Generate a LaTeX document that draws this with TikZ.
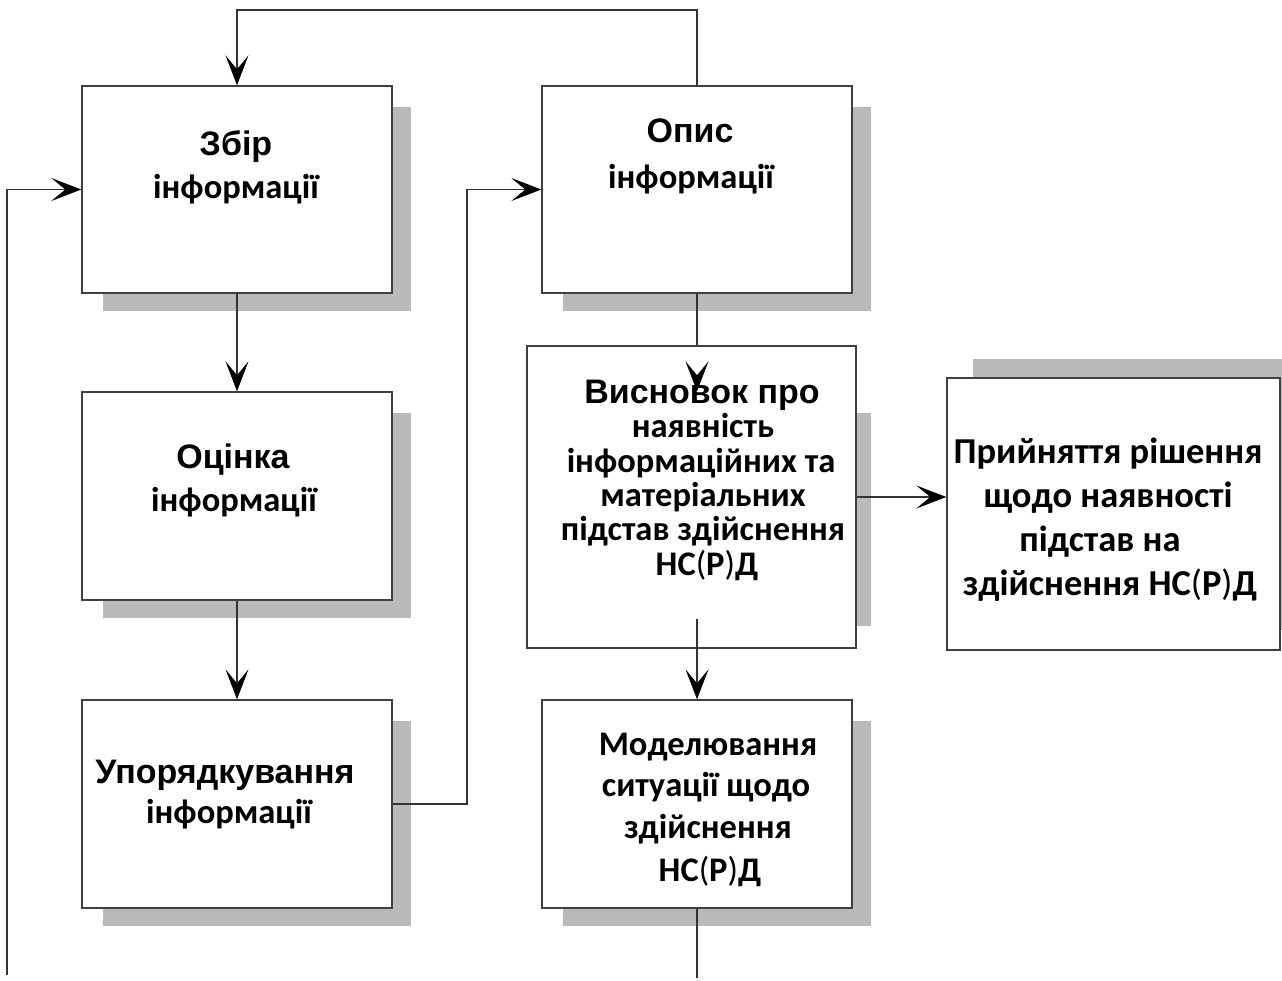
\documentclass[tikz,border=0pt]{standalone}
\usepackage{fontspec}
\setmainfont{Carlito}
\newfontfamily\arialfont{Liberation Sans}
\usetikzlibrary{arrows.meta}
\begin{document}
\begin{tikzpicture}[x=1pt,y=-1pt,
  shadowc/.style={fill=black!27},
  box/.style={draw=black!75, line width=1.4pt, fill=white, inner sep=0pt},
  conn/.style={draw=black!80, line width=1.1pt},
  arr/.style={-{Stealth[length=30pt,width=23pt,inset=14pt,color=black]}},
  lnC/.style={anchor=base, inner sep=0pt, font=\fontsize{34.5}{40}\selectfont\bfseries},
  lnD/.style={anchor=base, inner sep=0pt, font=\fontsize{36.5}{44}\selectfont\bfseries},
  lnA/.style={anchor=base, inner sep=0pt, font=\arialfont\fontsize{34}{40}\selectfont\bfseries}
]
\useasboundingbox[fill=white] (0,0) rectangle (1282,980);
% shadows
\fill[shadowc] (103,107) rectangle (411,311);
\fill[shadowc] (103,413) rectangle (411,618);
\fill[shadowc] (103,721) rectangle (411,926);
\fill[shadowc] (563,107) rectangle (871,311);
\fill[shadowc] (563,413) rectangle (871,626);
\fill[shadowc] (563,721) rectangle (871,926);
\fill[shadowc] (973,359) rectangle (1282,630);
% hidden box and boxes
\node[box, minimum width=310pt, minimum height=226pt] (bh) at (697,505) {};
\node[box, minimum width=310pt, minimum height=207pt] (b1) at (237,189.5) {};
\node[box, minimum width=310pt, minimum height=208pt] (b2) at (237,496) {};
\node[box, minimum width=310pt, minimum height=208pt] (b3) at (237,804) {};
\node[box, minimum width=310pt, minimum height=207pt] (b4) at (697,189.5) {};
\draw[conn] (b4.south) -- (bh.north);
\node[box, minimum width=329pt, minimum height=302pt] (b5) at (691.5,497) {};
\node[box, minimum width=310pt, minimum height=208pt] (b6) at (697,804) {};
\node[box, minimum width=333pt, minimum height=272pt] (b7) at (1113.5,514) {};
% coordinates
\coordinate (k1) at (467,804);
\coordinate (k2) at (467,189.5);
\coordinate (l0) at (7,975);
\coordinate (l1) at (7,189.5);
\coordinate (t1) at (697,10);
\coordinate (t2) at (237,10);
\coordinate (ah) at (697,376);
\coordinate (m0) at (697,978);
% connectors
\draw[conn,arr] (b1.south) -- (b2.north);
\draw[conn,arr] (b2.south) -- (b3.north);
\draw[conn,arr] (b3.east) -- (k1) -- (k2) -- (b4.west);
\draw[conn,arr] (l0) -- (l1) -- (b1.west);
\draw[conn,arr] (b4.north) -- (t1) -- (t2) -- (b1.north);
\draw[conn,arr] (ah) -- (bh.north);
\draw[conn,arr] (bh.south) -- (b6.north);
\draw[conn,arr] (b5.east) -- (b7.west |- b5.east);
\draw[conn] (b6.south) -- (m0);
% texts
\node[lnA] (t1a) at (236,155) {Збір};
\node[lnC] (t1b) at (236,198) {інформації};
\node[lnA] (t2a) at (233,468) {Оцінка};
\node[lnC] (t2b) at (234,511) {інформації};
\node[lnA] (t3a) at (225,783) {Упорядкування};
\node[lnC] (t3b) at (229,823) {інформації};
\node[lnA] (t4a) at (690,142) {Опис};
\node[lnC] (t4b) at (691,188) {інформації};
\node[lnA] (t5a) at (702,403) {Висновок про};
\node[lnC] (t5b) at (703,437) {наявність};
\node[lnC] (t5c) at (701,472) {інформаційних та};
\node[lnC] (t5d) at (703,506) {матеріальних};
\node[lnC] (t5e) at (703,540) {підстав здійснення};
\node[lnC] (t5f) at (707,575) {НС{\mdseries(}Р{\mdseries)}Д};
\node[lnD] (t7a) at (1108,463) {Прийняття рішення};
\node[lnD] (t7b) at (1108,507) {щодо наявності};
\node[lnD] (t7c) at (1100,551) {підстав на};
\node[lnD] (t7d) at (1110,595) {здійснення НС{\mdseries(}Р{\mdseries)}Д};
\node[lnC] (t6a) at (708,755) {Моделювання};
\node[lnC] (t6b) at (706,796) {ситуації щодо};
\node[lnC] (t6c) at (708,838) {здійснення};
\node[lnC] (t6d) at (710,881) {НС{\mdseries(}Р{\mdseries)}Д};
\end{tikzpicture}
\end{document}
